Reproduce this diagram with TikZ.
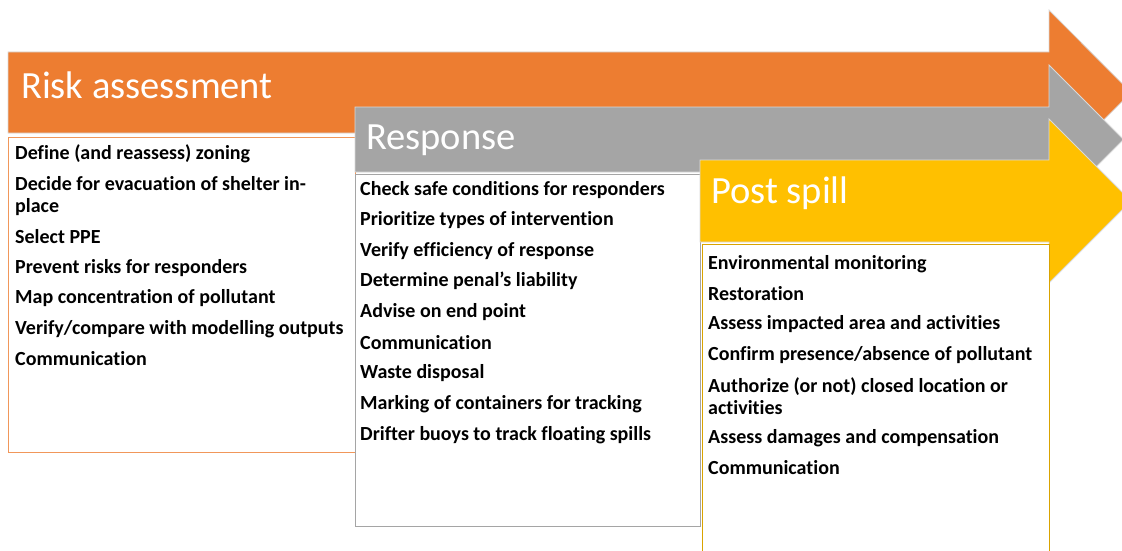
\documentclass[tikz,border=0pt]{standalone}
\usepackage{fontspec}
\setmainfont[Ligatures=NoCommon]{Carlito}
\definecolor{riskorange}{HTML}{ED7D31}
\definecolor{respgrey}{HTML}{A5A5A5}
\definecolor{postgold}{HTML}{FFC000}
\definecolor{edgegrey}{HTML}{D9D9D9}
\tikzset{
  phasearrow/.style={draw=edgegrey, line width=0.8pt, line join=miter},
  phasetitle/.style={anchor=west, inner sep=0pt, text=white, font=\fontsize{38.5}{40}\selectfont},
  listbox/.style={fill=white, line width=0.8pt},
  item/.style={anchor=west, inner sep=0pt, align=left, font=\bfseries\fontsize{20}{22}\selectfont}
}
\begin{document}
\begin{tikzpicture}[x=1pt,y=-1pt]
\useasboundingbox (0,0) rectangle (1122,551);
\clip (0,0) rectangle (1122,551);

% Risk assessment arrow and its list
\filldraw[phasearrow, fill=riskorange] (8,52) -- (1049,52) -- (1049,10) -- (1131,92.5) -- (1049,175) -- (1049,133) -- (8,133) -- cycle;
\node[phasetitle] (riskT) at (21,85) {Risk assessment};
\draw[listbox, draw=riskorange!80] (8,137) rectangle (355,452);
\node[item] (r1) at (15,154) {Define (and reassess) zoning};
\node[item] (r2) at (15,196) {Decide for evacuation of shelter in-\\place};
\node[item] (r3) at (15,237) {Select PPE};
\node[item] (r4) at (15,268) {Prevent risks for responders};
\node[item] (r5) at (15,298) {Map concentration of pollutant};
\node[item] (r6) at (15,329) {Verify/compare with modelling outputs};
\node[item] (r7) at (15,359) {Communication};

% Response arrow and its list
\filldraw[phasearrow, fill=respgrey] (355,107) -- (1049,107) -- (1049,65) -- (1123.5,139.5) -- (1049,214) -- (1049,172) -- (355,172) -- cycle;
\node[phasetitle] (respT) at (366,140) {Response};
\draw[listbox, draw=respgrey] (355,174) rectangle (700,526);
\node[item] (s1) at (360,190) {Check safe conditions for responders};
\node[item] (s2) at (360,220) {Prioritize types of intervention};
\node[item] (s3) at (360,251) {Verify efficiency of response};
\node[item] (s4) at (360,281) {Determine penal’s liability};
\node[item] (s5) at (360,312) {Advise on end point};
\node[item] (s6) at (360,343) {Communication};
\node[item] (s7) at (360,373) {Waste disposal};
\node[item] (s8) at (360,404) {Marking of containers for tracking};
\node[item] (s9) at (360,435) {Drifter buoys to track floating spills};

% Post spill arrow and its list
\filldraw[phasearrow, fill=postgold] (700,160) -- (1049,160) -- (1049,119) -- (1131,201) -- (1049,283) -- (1049,242) -- (700,242) -- cycle;
\node[phasetitle] (postT) at (711,193) {Post spill};
\draw[listbox, draw=postgold!85!black] (702,244) rectangle (1049,560);
\node[item] (p1) at (708,264) {Environmental monitoring};
\node[item] (p2) at (708,294) {Restoration};
\node[item] (p3) at (708,324) {Assess impacted area and activities};
\node[item] (p4) at (708,355) {Confirm presence/absence of pollutant};
\node[item] (p5) at (708,396) {Authorize (or not) closed location or\\activities};
\node[item] (p6) at (708,438) {Assess damages and compensation};
\node[item] (p7) at (708,468) {Communication};
\end{tikzpicture}
\end{document}
